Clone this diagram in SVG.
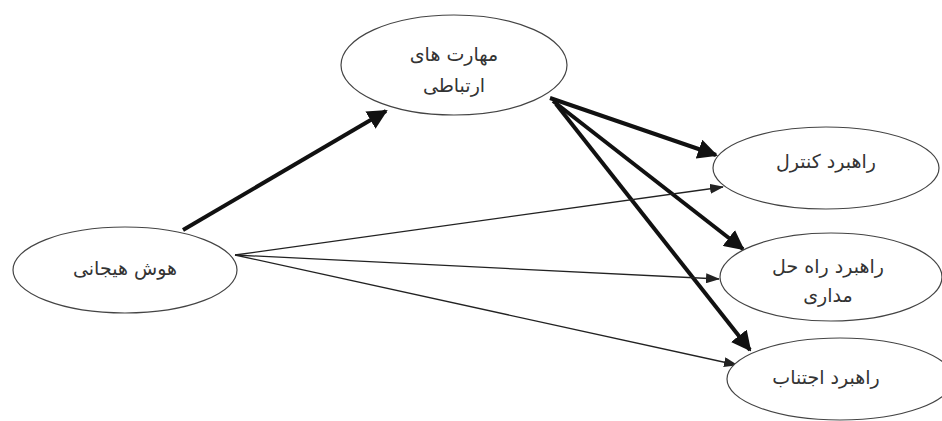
<svg xmlns="http://www.w3.org/2000/svg" width="942" height="421" viewBox="0 0 942 421">
<style>
.node ellipse{fill:#fff;stroke:#444;stroke-width:1.2}
.node text{font-family:"DejaVu Sans",sans-serif;font-size:19px;fill:#333;text-anchor:middle;direction:rtl}
.thick{stroke:#111;stroke-width:4;fill:none}
.thin{stroke:#222;stroke-width:1.3;fill:none}
</style>
<defs>
<marker id="ah" markerWidth="5" markerHeight="5" refX="4.5" refY="2.5" orient="auto" markerUnits="strokeWidth"><path d="M0,0 L5,2.5 L0,5 Z" fill="#111"/></marker>
<marker id="ahs" markerWidth="14" markerHeight="10" refX="13" refY="5" orient="auto" markerUnits="userSpaceOnUse"><path d="M0,0 L14,5 L0,10 Z" fill="#222"/></marker>
</defs>
<rect width="942" height="421" fill="#fff"/>
<g id="connectors">
<line class="thick" x1="183" y1="230" x2="386" y2="111" marker-end="url(#ah)"/>
<line class="thick" x1="550" y1="98" x2="716" y2="155" marker-end="url(#ah)"/>
<line class="thick" x1="553" y1="101" x2="743" y2="249" marker-end="url(#ah)"/>
<line class="thick" x1="556" y1="104" x2="750" y2="350" marker-end="url(#ah)"/>
<line class="thin" x1="235" y1="255" x2="723" y2="187" marker-end="url(#ahs)"/>
<line class="thin" x1="235" y1="255" x2="719" y2="279" marker-end="url(#ahs)"/>
<line class="thin" x1="235" y1="255" x2="737" y2="365" marker-end="url(#ahs)"/>
</g>
<g id="n-comm" class="node"><ellipse cx="454" cy="65" rx="113" ry="50"/><text x="454" y="61">مهارت های</text><text x="454" y="92">ارتباطی</text></g>
<g id="n-ei" class="node"><ellipse cx="125" cy="270" rx="112" ry="43"/><text x="125" y="275">هوش هیجانی</text></g>
<g id="n-control" class="node"><ellipse cx="826" cy="168" rx="113" ry="41"/><text x="826" y="168">راهبرد کنترل</text></g>
<g id="n-solve" class="node"><ellipse cx="831" cy="277" rx="111" ry="44"/><text x="828" y="273">راهبرد راه حل</text><text x="828" y="302">مداری</text></g>
<g id="n-avoid" class="node"><ellipse cx="840" cy="379" rx="113" ry="41"/><text x="826" y="384">راهبرد اجتناب</text></g>
</svg>
